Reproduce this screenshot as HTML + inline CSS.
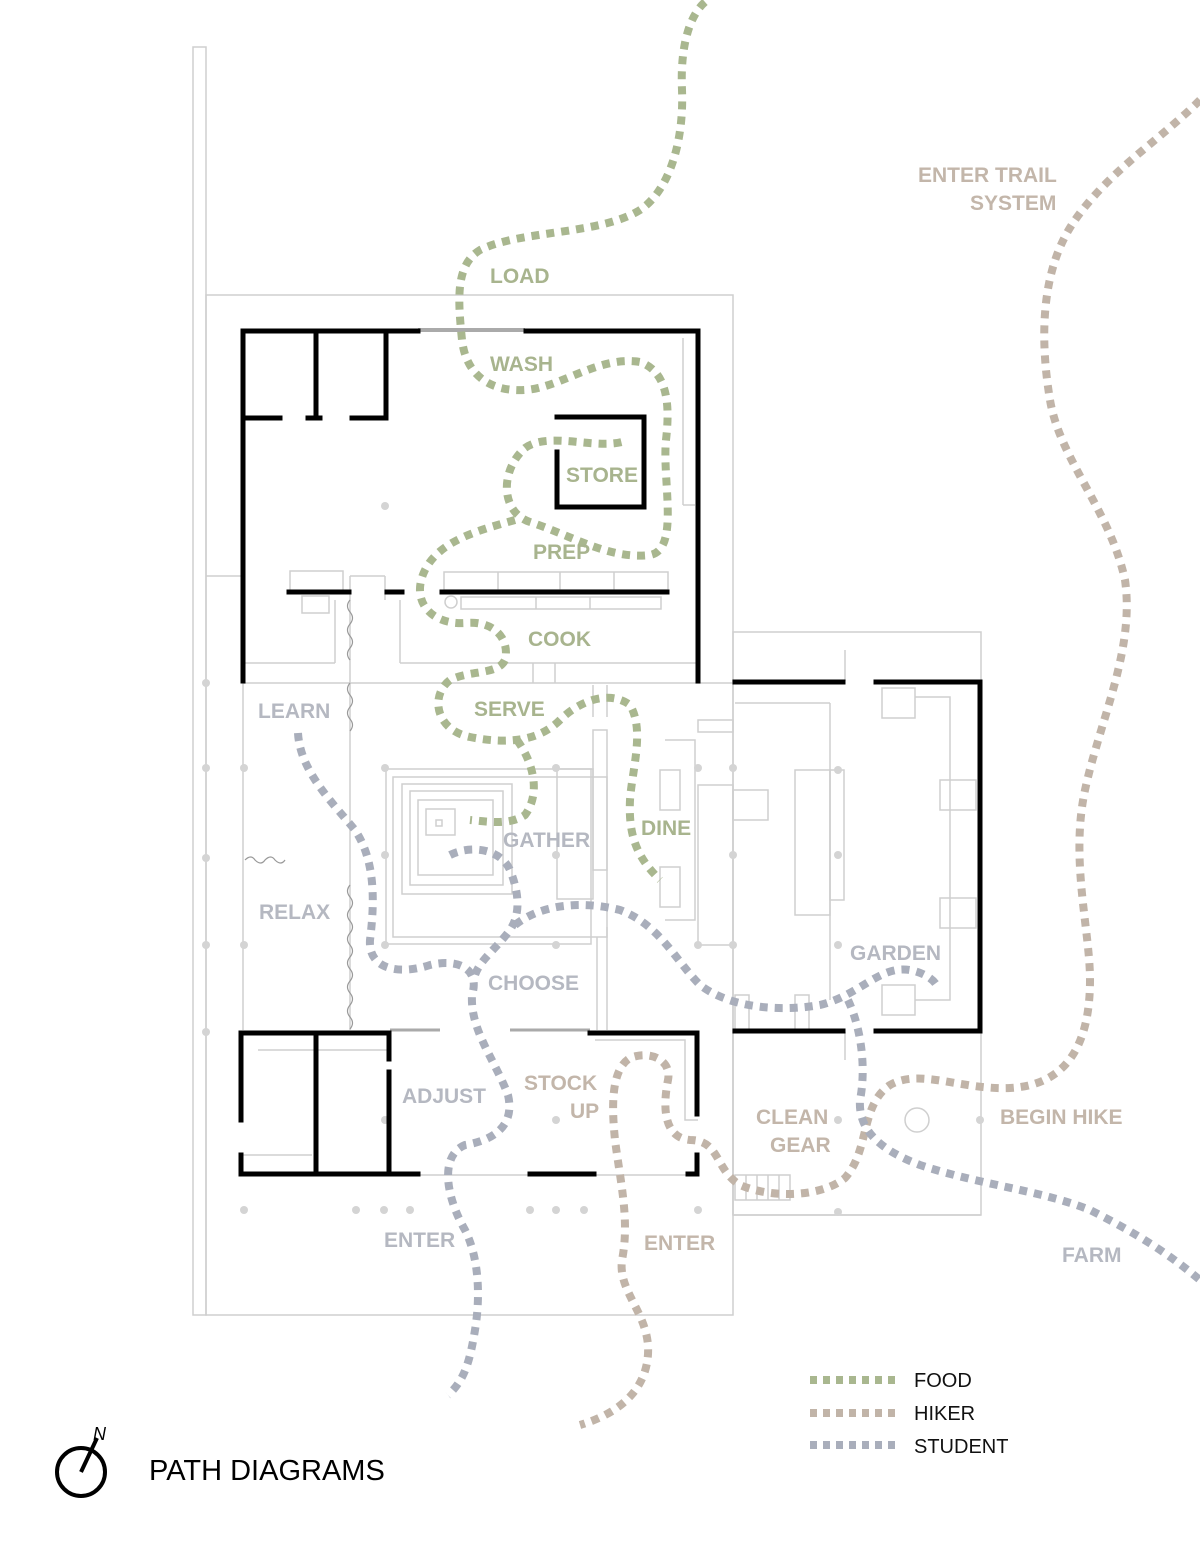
<!DOCTYPE html>
<html><head><meta charset="utf-8"><style>
html,body{margin:0;padding:0;background:#fff}
svg{display:block}
text{font-family:"Liberation Sans",sans-serif;font-weight:bold}
</style></head><body>
<svg width="1200" height="1553" viewBox="0 0 1200 1553" xmlns="http://www.w3.org/2000/svg">
<g fill="none" stroke="#cfcfcf" stroke-width="1.5">
<rect x="193" y="47" width="13" height="1268"/>
<rect x="206" y="295" width="527" height="1020"/>
<rect x="733" y="632" width="248" height="583"/>
<line x1="243" y1="683" x2="733" y2="683"/>
<line x1="206" y1="576" x2="243" y2="576"/>
<line x1="243" y1="663" x2="335" y2="663"/>
<line x1="335" y1="600" x2="335" y2="663"/>
<line x1="350" y1="576" x2="385" y2="576"/>
<line x1="350" y1="576" x2="350" y2="1030"/>
<line x1="385" y1="576" x2="385" y2="600"/>
<line x1="400" y1="600" x2="400" y2="663"/>
<line x1="400" y1="663" x2="698" y2="663"/>
<line x1="533" y1="663" x2="533" y2="683"/>
<line x1="555" y1="663" x2="555" y2="683"/>
<rect x="290" y="571" width="53" height="21"/>
<rect x="302" y="596" width="27" height="17"/>
<rect x="444" y="572" width="224" height="18"/>
<line x1="498" y1="572" x2="498" y2="590"/><line x1="560" y1="572" x2="560" y2="590"/><line x1="614" y1="572" x2="614" y2="590"/>
<rect x="461" y="597" width="200" height="12"/>
<line x1="536" y1="597" x2="536" y2="609"/><line x1="590" y1="597" x2="590" y2="609"/>
<circle cx="451" cy="602" r="6"/>
<line x1="683" y1="338" x2="683" y2="505"/><line x1="683" y1="505" x2="695" y2="505"/>
<line x1="243" y1="683" x2="243" y2="1030"/>
<rect x="386" y="769" width="205" height="175"/>
<rect x="393" y="777" width="214" height="160"/>
<rect x="402" y="784" width="110" height="110"/>
<rect x="410" y="791" width="93" height="94"/>
<rect x="418" y="800" width="75" height="75"/>
<rect x="426" y="809" width="29" height="26"/>
<rect x="436" y="820" width="6" height="6"/>
<line x1="597" y1="937" x2="597" y2="1030"/>
<line x1="607" y1="927" x2="607" y2="1030"/>
<rect x="557" y="769" width="36" height="130"/>
<rect x="593" y="730" width="14" height="140"/>
<line x1="593" y1="685" x2="593" y2="717"/><line x1="607" y1="685" x2="607" y2="717"/>
<rect x="660" y="770" width="20" height="40"/>
<rect x="660" y="867" width="20" height="40"/>
<polyline points="665,740 695,740 695,920 665,920"/>
<rect x="698" y="720" width="35" height="12"/>
<rect x="698" y="785" width="35" height="160"/>
<rect x="733" y="790" width="35" height="30"/>
<line x1="735" y1="703" x2="830" y2="703"/>
<line x1="830" y1="703" x2="830" y2="1000"/>
<rect x="795" y="770" width="35" height="145"/>
<rect x="830" y="770" width="14" height="130"/>
<rect x="882" y="688" width="33" height="30"/>
<polyline points="915,697 950,697 950,1000 915,1000"/>
<rect x="940" y="780" width="36" height="30"/>
<rect x="940" y="898" width="36" height="30"/>
<rect x="882" y="985" width="33" height="30"/>
<rect x="735" y="995" width="14" height="35"/>
<rect x="795" y="995" width="14" height="35"/>
<rect x="735" y="1175" width="55" height="25"/>
<line x1="746" y1="1175" x2="746" y2="1200"/><line x1="757" y1="1175" x2="757" y2="1200"/><line x1="768" y1="1175" x2="768" y2="1200"/><line x1="779" y1="1175" x2="779" y2="1200"/>
<line x1="733" y1="1215" x2="981" y2="1215"/>
<line x1="733" y1="1030" x2="733" y2="1215"/>
<circle cx="917" cy="1120" r="12"/>
<line x1="418" y1="1175" x2="528" y2="1175"/>
<line x1="595" y1="1175" x2="690" y2="1175"/>
<polyline points="595,1040 685,1040 685,1120 698,1120"/>
<line x1="258" y1="1050" x2="389" y2="1050"/>
<line x1="243" y1="1155" x2="312" y2="1155"/>
<line x1="418" y1="330" x2="525" y2="330" stroke="#aaa" stroke-width="4"/>
<line x1="510" y1="1030" x2="590" y2="1030" stroke="#aaa" stroke-width="3"/>
<line x1="390" y1="1030" x2="440" y2="1030" stroke="#aaa" stroke-width="3"/>
<line x1="845" y1="650" x2="845" y2="681"/>
<line x1="845" y1="1032" x2="845" y2="1060"/>
</g>
<g fill="none" stroke="#999" stroke-width="1.2">
<path d="M350 600 q-5 6 0 12 q5 6 0 12 q-5 6 0 12 q5 6 0 12 q-5 6 0 12 M350 683 q-5 6 0 12 q5 6 0 12 q-5 6 0 12 q5 6 0 12"/>
<path d="M350 885 q-5 6 0 12 q5 6 0 12 q-5 6 0 12 q5 6 0 12 q-5 6 0 12 q5 6 0 12 q-5 6 0 12 q5 6 0 12 q-5 6 0 12 q5 6 0 12 q-5 6 0 12 q5 6 0 12"/>
<path d="M245 860 q6 -6 10 0 q6 6 10 0 q6 -6 10 0 q6 6 10 0"/>
</g>
<g fill="#d4d4d4">
<circle cx="206" cy="683" r="4"/><circle cx="206" cy="768" r="4"/><circle cx="206" cy="858" r="4"/><circle cx="206" cy="945" r="4"/><circle cx="206" cy="1032" r="4"/>
<circle cx="244" cy="768" r="4"/><circle cx="244" cy="945" r="4"/>
<circle cx="385" cy="506" r="4"/><circle cx="385" cy="768" r="4"/><circle cx="385" cy="855" r="4"/><circle cx="385" cy="945" r="4"/><circle cx="385" cy="1120" r="4"/>
<circle cx="556" cy="768" r="4"/><circle cx="556" cy="855" r="4"/><circle cx="556" cy="945" r="4"/><circle cx="556" cy="1120" r="4"/>
<circle cx="698" cy="768" r="4"/><circle cx="698" cy="945" r="4"/><circle cx="733" cy="768" r="4"/><circle cx="733" cy="855" r="4"/><circle cx="733" cy="945" r="4"/>
<circle cx="838" cy="770" r="4"/><circle cx="838" cy="855" r="4"/><circle cx="838" cy="945" r="4"/><circle cx="838" cy="1120" r="4"/><circle cx="838" cy="1212" r="4"/><circle cx="980" cy="1120" r="4"/>
<circle cx="244" cy="1210" r="4"/><circle cx="356" cy="1210" r="4"/><circle cx="384" cy="1210" r="4"/><circle cx="410" cy="1210" r="4"/><circle cx="530" cy="1210" r="4"/><circle cx="556" cy="1210" r="4"/><circle cx="584" cy="1210" r="4"/><circle cx="698" cy="1210" r="4"/>
</g>
<g stroke="#000" stroke-width="5" fill="none" stroke-linecap="square">
<polyline points="418,331 243,331 243,681"/>
<polyline points="526,331 698,331 698,681"/>
<line x1="316" y1="331" x2="316" y2="418"/><line x1="386" y1="331" x2="386" y2="418"/>
<line x1="245" y1="418" x2="280" y2="418"/><line x1="308" y1="418" x2="320" y2="418"/><line x1="352" y1="418" x2="386" y2="418"/>
<polyline points="557,417 644,417 644,507 557,507 557,452"/>
<line x1="442" y1="592" x2="667" y2="592"/><line x1="289" y1="592" x2="349" y2="592"/><line x1="387" y1="592" x2="402" y2="592"/>
<line x1="735" y1="682" x2="843" y2="682"/>
<polyline points="876,682 980,682 980,1031 876,1031"/>
<line x1="735" y1="1031" x2="843" y2="1031"/>
<polyline points="389,1059 389,1033 241,1033 241,1120"/>
<polyline points="241,1155 241,1174 418,1174"/>
<line x1="316" y1="1033" x2="316" y2="1174"/>
<line x1="389" y1="1072" x2="389" y2="1174"/>
<line x1="530" y1="1174" x2="594" y2="1174"/>
<polyline points="590,1033 697,1033 697,1114"/>
<polyline points="688,1174 697,1174 697,1155"/>
</g>
<g fill="none" stroke-width="8" stroke-dasharray="8 7" stroke-linejoin="round">
<path stroke="#a9b78f" d="M705 2 C690 15 680 45 682 90 C684 140 670 190 640 210 C600 235 520 230 480 250 C455 265 458 300 462 340 C466 375 490 392 525 390 C560 388 600 355 640 362 C668 372 670 405 666 440 C662 480 680 550 650 555 C610 560 570 535 530 522 C500 512 500 470 525 448 C550 430 600 452 628 440"/>
<path stroke="#a9b78f" d="M515 520 C480 530 440 540 425 570 C410 600 430 625 465 623 C495 620 510 640 505 660 C498 675 470 670 450 680 C430 695 435 730 470 737 C510 745 540 740 560 720 C580 700 610 690 630 705 C645 730 632 770 630 800 C628 840 640 860 660 880"/>
<path stroke="#a9b78f" d="M517 740 C535 765 540 795 525 815 C510 825 490 822 470 820"/>
<path stroke="#c1b4a8" d="M1200 100 C1160 140 1110 170 1075 220 C1040 270 1040 340 1050 400 C1060 460 1110 510 1125 580 C1135 650 1100 720 1085 790 C1070 860 1090 930 1090 980 C1090 1040 1070 1085 1010 1088 C960 1090 920 1068 890 1085 C860 1105 870 1150 845 1178 C820 1198 770 1198 740 1185 C715 1170 720 1140 690 1140 C665 1138 662 1110 668 1080 C672 1060 650 1050 630 1058 C610 1070 612 1110 615 1140 C620 1180 630 1220 622 1260 C618 1290 645 1310 648 1345 C650 1380 630 1410 580 1425"/>
<path stroke="#a9aebb" d="M298 733 C300 770 330 800 355 830 C375 860 375 900 370 940 C368 970 400 975 430 965 C460 958 480 970 472 995 C470 1030 495 1060 508 1095 C515 1125 495 1140 465 1145 C440 1155 445 1195 465 1230 C480 1260 480 1300 475 1330 C470 1360 465 1380 448 1395"/>
<path stroke="#a9aebb" d="M450 855 C470 845 500 848 510 870 C520 895 520 915 510 930 C495 950 480 960 475 975"/>
<path stroke="#a9aebb" d="M515 925 C540 905 580 900 620 910 C660 925 675 960 700 985 C730 1008 780 1012 820 1005 C860 995 880 965 910 970 C925 973 935 980 938 988"/>
<path stroke="#a9aebb" d="M848 1000 C862 1030 866 1070 860 1100 C858 1130 880 1150 920 1165 C980 1185 1040 1190 1090 1210 C1140 1235 1170 1255 1200 1280"/>
</g>
<g font-size="21" fill="#a8b48e">
<text x="490" y="283">LOAD</text><text x="490" y="371">WASH</text><text x="566" y="482">STORE</text><text x="533" y="559">PREP</text><text x="528" y="646">COOK</text><text x="474" y="716">SERVE</text><text x="641" y="835">DINE</text>
</g>
<g font-size="21" fill="#b5b8c1">
<text x="258" y="718">LEARN</text><text x="259" y="919">RELAX</text><text x="503" y="847">GATHER</text><text x="488" y="990">CHOOSE</text><text x="402" y="1103">ADJUST</text><text x="384" y="1247">ENTER</text><text x="850" y="960">GARDEN</text><text x="1062" y="1262">FARM</text>
</g>
<g font-size="21" fill="#c3b6aa">
<text x="918" y="182">ENTER TRAIL</text><text x="970" y="210">SYSTEM</text><text x="524" y="1090">STOCK</text><text x="570" y="1118">UP</text><text x="756" y="1124">CLEAN</text><text x="770" y="1152">GEAR</text><text x="1000" y="1124">BEGIN HIKE</text><text x="644" y="1250">ENTER</text>
</g>
<g stroke-width="8" stroke-dasharray="7 6">
<line x1="810" y1="1380" x2="895" y2="1380" stroke="#a9b78f"/>
<line x1="810" y1="1413" x2="895" y2="1413" stroke="#c1b4a8"/>
<line x1="810" y1="1445" x2="895" y2="1445" stroke="#a9aebb"/>
</g>
<g font-size="20" fill="#111">
<text x="914" y="1387" style="font-weight:normal">FOOD</text><text x="914" y="1420" style="font-weight:normal">HIKER</text><text x="914" y="1453" style="font-weight:normal">STUDENT</text>
</g>
<circle cx="81" cy="1472" r="24" fill="none" stroke="#000" stroke-width="4"/>
<line x1="81" y1="1472" x2="97" y2="1438" stroke="#000" stroke-width="4"/>
<text x="93" y="1440" font-size="18" fill="#000" font-style="italic" style="font-weight:normal">N</text>
<text x="149" y="1480" font-size="29" fill="#000" style="font-weight:normal">PATH DIAGRAMS</text>
</svg>
</body></html>
